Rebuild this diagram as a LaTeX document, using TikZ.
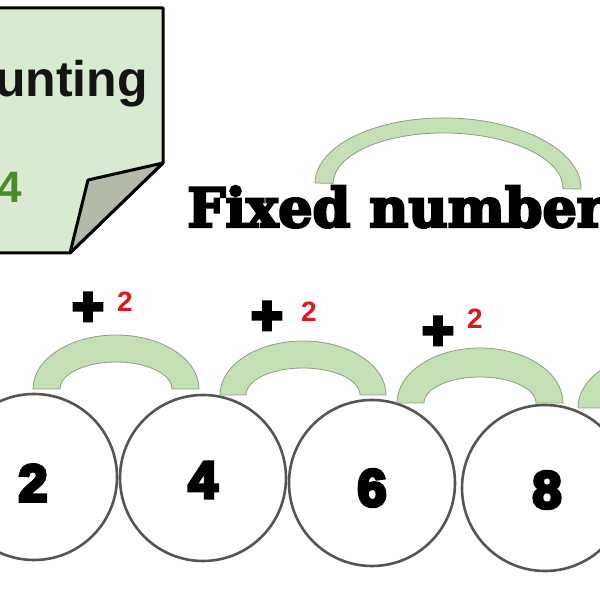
\documentclass[tikz,border=0pt]{standalone}
\usepackage{fontspec}
\setmainfont{Liberation Sans}
\newfontfamily\blackfont[UprightFont={* Bold}, UprightFeatures={FakeBold=7}]{Liberation Sans}
\newfontfamily\slabfont[UprightFont={* Bold}, UprightFeatures={FakeBold=4.5}]{DejaVu Serif}
\definecolor{notegreen}{HTML}{D8EAD2}
\definecolor{foldgray}{HTML}{B4BAAA}
\definecolor{archfill}{HTML}{C5E0B4}
\definecolor{archline}{HTML}{8E9E84}
\definecolor{ringgray}{HTML}{555555}
\definecolor{numred}{HTML}{E3161B}
\definecolor{numgreen}{HTML}{4A8C2A}
\tikzset{
  ring/.style={circle, draw=ringgray, line width=2.6pt, fill=white, minimum size=166pt, inner sep=0pt},
  digit/.style={font=\blackfont\fontsize{52}{52}\selectfont, inner sep=0pt},
  plussign/.style={font=\blackfont\fontsize{54}{54}\selectfont, inner sep=0pt},
  stepnum/.style={font=\bfseries\fontsize{28}{28}\selectfont, text=numred, inner sep=0pt},
  archshape/.style={fill=archfill, draw=archline, line width=0.8pt},
  notestyle/.style={fill=notegreen, draw=black, line width=3pt, line join=round},
}
\newcommand{\archat}[7]{%
  \path[archshape] (#1-#3,#2) arc[start angle=180, end angle=0, x radius=#3, y radius=#4]
    -- (#1+#5,#2) arc[start angle=0, end angle=180, x radius=#5, y radius=#6] -- cycle;}
\begin{document}
\begin{tikzpicture}[x=1pt,y=1pt]
\path[use as bounding box, clip] (0,0) rectangle (600,600);
\fill[white] (0,0) rectangle (600,600);
% sticky note
\path[notestyle] (-10,592) -- (163,592) -- (163,437) -- (70,347) -- (-10,347) -- cycle;
\path[notestyle, fill=foldgray] (163,437) -- (88,420) -- (70,347) -- cycle;
\node[anchor=base east, inner sep=0pt, text=black!92, font=\bfseries\fontsize{50}{50}\selectfont] (title) at (148,503) {unting};
\node[anchor=east, inner sep=0pt, text=numgreen, font=\bfseries\fontsize{44}{44}\selectfont] (four) at (22,413) {4};
% top arch and heading
\begin{scope}[rotate around={-1.3:(448,414)}]
\archat{448}{414}{133}{68}{115}{53}{}
\end{scope}
\node[anchor=base west, inner sep=0pt, font=\slabfont\fontsize{54}{54}\selectfont] (head) at (187,373) {Fixed number};
% circles
\node[ring] (c1) at (34,123) {};
\node[ring] (c2) at (203,122) {};
\node[ring] (c3) at (372,117) {};
\node[ring] (c4) at (545,112) {};
\node[digit] (n1) at (33,117) {2};
\node[digit] (n2) at (203,120) {4};
\node[digit] (n3) at (372,112) {6};
\node[digit] (n4) at (547,110) {8};
% arches
\archat{116}{211}{83}{54}{56}{27}{}
\archat{303}{205}{83}{54}{57}{27}{}
\archat{480}{197}{83}{55}{56}{26}{}
\archat{661}{192}{83}{55}{56}{26}{}
% labels
\node[plussign] (p1) at (88,291) {+};
\node[stepnum] (s1) at (125,298) {2};
\node[plussign] (p2) at (267,282) {+};
\node[stepnum] (s2) at (309,288) {2};
\node[plussign] (p3) at (438,267) {+};
\node[stepnum] (s3) at (475,281) {2};
\end{tikzpicture}
\end{document}
